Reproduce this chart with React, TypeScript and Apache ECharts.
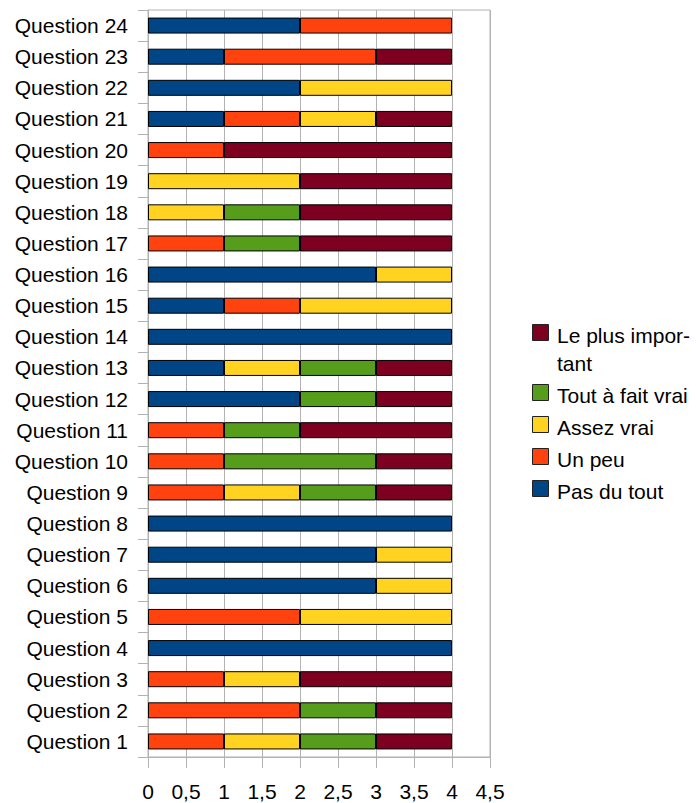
import React, { useEffect, useRef } from "react";
import * as echarts from "echarts";

const categories = [
  "Question 1", "Question 2", "Question 3", "Question 4", "Question 5", "Question 6",
  "Question 7", "Question 8", "Question 9", "Question 10", "Question 11", "Question 12",
  "Question 13", "Question 14", "Question 15", "Question 16", "Question 17", "Question 18",
  "Question 19", "Question 20", "Question 21", "Question 22", "Question 23", "Question 24",
];

const seriesNames = ["Pas du tout", "Un peu", "Assez vrai", "Tout à fait vrai", "Le plus important"];
const seriesColors = ["#004586", "#ff420e", "#ffd320", "#579d1c", "#7e0021"];

const pasDuTout = [0, 0, 0, 4, 0, 3, 3, 4, 0, 0, 0, 2, 1, 4, 1, 3, 0, 0, 0, 0, 1, 2, 1, 2];
const unPeu = [1, 2, 1, 0, 2, 0, 0, 0, 1, 1, 1, 0, 0, 0, 1, 0, 1, 0, 0, 1, 1, 0, 2, 2];
const assezVrai = [1, 0, 1, 0, 2, 1, 1, 0, 1, 0, 0, 0, 1, 0, 2, 1, 0, 1, 2, 0, 1, 2, 0, 0];
const toutAFaitVrai = [1, 1, 0, 0, 0, 0, 0, 0, 1, 2, 1, 1, 1, 0, 0, 0, 1, 1, 0, 0, 0, 0, 0, 0];
const lePlusImportant = [1, 1, 2, 0, 0, 0, 0, 0, 1, 1, 2, 1, 1, 0, 0, 0, 2, 2, 2, 3, 1, 0, 1, 0];

const xTicks = [0, 0.5, 1, 1.5, 2, 2.5, 3, 3.5, 4, 4.5];

const legendLabels = ["Le plus impor-\ntant", "Tout à fait vrai", "Assez vrai", "Un peu", "Pas du tout"];
const legendColorIndex = [4, 3, 2, 1, 0];

const FONT = '"Liberation Sans", Arial, sans-serif';

export default function App() {
  const ref = useRef<HTMLDivElement>(null);

  useEffect(() => {
    if (!ref.current) return;
    const chart = echarts.init(ref.current, null, { renderer: "svg" });
    const allValues = [pasDuTout, unPeu, assezVrai, toutAFaitVrai, lePlusImportant];

    const legendCenters = [332, 392, 424, 456, 488];
    const graphicEls: any[] = [];
    legendLabels.forEach((label, i) => {
      const c = legendCenters[i];
      graphicEls.push({
        type: "rect",
        left: 532,
        top: c - 8,
        shape: { x: 0, y: 0, width: 16, height: 16 },
        style: { fill: seriesColors[legendColorIndex[i]], stroke: "#222", lineWidth: 1 },
        silent: true,
      });
      graphicEls.push({
        type: "text",
        x: 557,
        y: c - 14 + 3,
        style: {
          text: label,
          font: `21px ${FONT}`,
          fill: "#000",
          verticalAlign: "top",
          lineHeight: 28,
        },
        silent: true,
      });
    });

    chart.setOption({
      animation: false,
      backgroundColor: "#fff",
      textStyle: { fontFamily: FONT },
      grid: {
        left: 148,
        right: 206,
        top: 10,
        bottom: 46,
        show: true,
        borderColor: "#b3b3b3",
        borderWidth: 1,
        backgroundColor: "transparent",
      },
      xAxis: {
        type: "value",
        min: 0,
        max: 4.5,
        interval: 0.5,
        axisLine: { show: true, lineStyle: { color: "#b3b3b3" } },
        axisTick: { show: true, length: 11, lineStyle: { color: "#b3b3b3" } },
        splitLine: { show: true, lineStyle: { color: "#b3b3b3" } },
        axisLabel: {
          color: "#000",
          fontSize: 21,
          fontFamily: FONT,
          margin: 24,
          formatter: (v: number) => String(xTicks.find((t) => Math.abs(t - v) < 1e-9) ?? v).replace(".", ","),
        },
      },
      yAxis: {
        type: "category",
        data: categories,
        axisLine: { show: true, lineStyle: { color: "#b3b3b3" } },
        axisTick: { show: true, length: 10, alignWithLabel: false, lineStyle: { color: "#b3b3b3" } },
        splitLine: { show: false },
        axisLabel: { color: "#000", fontSize: 21, fontFamily: FONT, margin: 20 },
      },
      series: seriesNames.map((name, i) => ({
        name,
        type: "bar",
        stack: "total",
        barWidth: 16,
        itemStyle: { color: seriesColors[i], borderColor: "#000", borderWidth: 1 },
        data: allValues[i].map((v) => (v === 0 ? null : v)),
      })),
      graphic: graphicEls,
    });
    return () => chart.dispose();
  }, []);

  return (
    <div
      ref={ref}
      style={{ position: "fixed", left: 0, top: 0, width: 696, height: 803 }}
    />
  );
}
